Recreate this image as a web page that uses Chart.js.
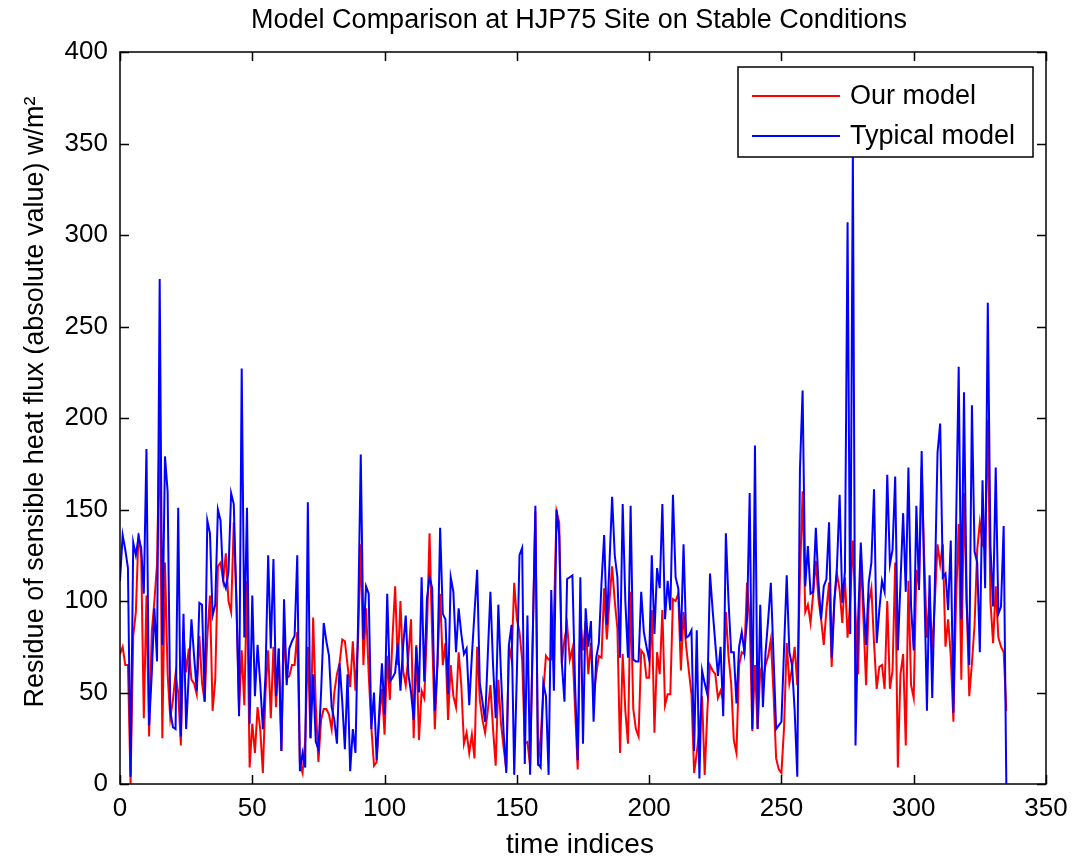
<!DOCTYPE html>
<html><head><meta charset="utf-8">
<script src="https://cdn.jsdelivr.net/npm/chart.js@4.4.1/dist/chart.umd.min.js"></script>
<style>html,body{margin:0;padding:0;background:#fff;}#wrap{width:1072px;height:859px;position:relative;}</style>
</head><body><div id="wrap"><canvas id="c"></canvas></div>
<script>
const titleText = "Model Comparison at HJP75 Site on Stable Conditions";
const xLabel = "time indices";
const yLabel = "Residue of sensible heat flux (absolute value) w/m\u00B2";
const seriesNames = ["Our model", "Typical model"];
const xTicks = [0,50,100,150,200,250,300,350];
const yTicks = [0,50,100,150,200,250,300,350,400];

const ourModel = [
71,75,65,65,0,81,94,137,125,36,
103,26,83,100,120,199,25,121,60,36,
46,60,50,21,83,61,74,57,55,49,
81,55,45,80,103,40,57,119,121,111,
126,100,94,143,100,40,73,43,111,9,
33,17,42,30,6,50,73,36,75,42,
74,18,83,58,59,65,65,83,11,6,
24,75,25,91,43,12,35,41,41,38,
30,50,60,66,79,78,65,53,78,51,
80,131,65,96,60,31,10,12,36,52,
27,70,46,80,108,65,100,62,54,70,
90,25,76,24,51,47,83,137,80,30,
66,104,65,77,35,65,48,42,72,54,
22,28,17,27,14,75,46,35,28,40,
54,30,10,57,33,20,8,76,68,110,
90,83,68,22,23,10,80,149,10,26,
50,70,68,68,90,149,143,66,79,87,
68,74,41,8,90,73,89,60,77,48,
60,70,69,107,79,100,119,100,85,17,
71,40,22,105,41,30,26,73,71,58,
58,95,28,72,60,95,43,49,49,101,
100,104,62,94,75,62,49,6,17,30,
48,5,40,65,62,60,47,51,46,94,
70,55,24,17,65,72,71,110,90,29,
65,30,62,57,65,70,79,50,14,8,
6,31,77,55,63,75,54,113,160,94,
98,88,104,122,101,90,76,95,110,64,
100,115,106,88,113,80,100,133,93,60,
126,90,54,99,107,77,52,64,65,52,
100,52,62,121,9,60,71,21,111,54,
47,117,108,173,122,80,102,73,100,131,
120,131,75,90,70,34,100,142,57,159,
100,48,66,87,128,143,131,128,199,100,
77,108,80,75,72,40
];

const typicalModel = [
111,136,128,118,4,132,125,135,129,104,
183,32,60,96,67,276,76,179,160,40,
31,30,151,26,93,30,60,90,70,51,
99,98,45,144,137,92,98,150,144,111,
107,116,159,153,100,37,227,80,151,33,
103,48,76,55,30,60,125,74,123,48,
74,18,101,54,74,78,81,125,7,17,
9,154,25,60,23,19,50,88,78,70,
42,35,22,66,45,19,60,7,30,17,
90,180,79,108,104,30,50,13,40,66,
38,104,56,58,61,77,51,75,92,60,
50,35,75,50,113,56,101,113,107,40,
66,140,93,90,49,113,105,72,96,82,
71,74,43,70,94,117,55,45,34,70,
105,65,36,98,60,28,6,76,87,5,
60,125,129,11,92,5,80,152,11,9,
55,48,5,106,51,150,136,66,45,112,
113,114,54,13,113,22,96,75,89,34,
69,77,110,136,87,120,157,125,113,69,
153,100,69,152,68,67,67,105,83,75,
68,125,82,118,107,153,90,111,95,158,
113,107,78,131,80,81,84,18,84,3,
62,55,49,115,95,77,59,75,37,137,
100,72,72,44,75,83,72,90,159,30,
185,30,98,42,72,90,110,70,30,32,
34,74,114,72,65,40,4,172,215,108,
130,104,105,140,110,90,108,112,143,69,
100,119,158,99,116,307,82,345,21,90,
132,100,76,110,121,161,77,95,111,105,
169,120,128,168,73,110,148,105,173,97,
73,152,106,182,110,40,114,47,110,181,
197,113,115,95,133,39,140,228,90,214,
100,65,207,127,121,72,166,107,263,130,
97,173,93,97,141,0
];

const FONT = "'Liberation Sans', Arial, Helvetica, sans-serif";
const toPoints = arr => arr.map((v, i) => ({x: i, y: v}));

const framePlugin = {
  id: 'frame',
  afterDatasetsDraw(chart) {
    const {ctx, chartArea: a, scales: {x, y}} = chart;
    ctx.save();
    ctx.strokeStyle = '#000';
    ctx.lineWidth = 1.5;
    ctx.strokeRect(a.left, a.top, a.right - a.left, a.bottom - a.top);
    const L = 9;
    ctx.beginPath();
    xTicks.forEach(v => {
      const px = Math.round(x.getPixelForValue(v)) + 0.5;
      ctx.moveTo(px, a.bottom); ctx.lineTo(px, a.bottom - L);
      ctx.moveTo(px, a.top); ctx.lineTo(px, a.top + L);
    });
    yTicks.forEach(v => {
      const py = Math.round(y.getPixelForValue(v)) + 0.5;
      ctx.moveTo(a.left, py); ctx.lineTo(a.left + L, py);
      ctx.moveTo(a.right, py); ctx.lineTo(a.right - L, py);
    });
    ctx.stroke();
    // legend
    const bw = 295, bh = 90;
    const bx = a.right - 308, by = a.top + 15;
    ctx.fillStyle = '#fff';
    ctx.fillRect(bx, by, bw, bh);
    ctx.lineWidth = 1.5;
    ctx.strokeStyle = '#000';
    ctx.strokeRect(bx, by, bw, bh);
    const cols = ['#ff0000', '#0000ff'];
    const rows = [by + 29, by + 69];
    ctx.font = '27px ' + FONT;
    ctx.textBaseline = 'middle';
    ctx.textAlign = 'left';
    rows.forEach((ry, k) => {
      ctx.strokeStyle = cols[k];
      ctx.lineWidth = 2;
      ctx.beginPath();
      ctx.moveTo(bx + 14, ry); ctx.lineTo(bx + 102, ry);
      ctx.stroke();
      ctx.fillStyle = '#000';
      ctx.fillText(seriesNames[k], bx + 112, ry + 1);
    });
    // titles
    const cx = (a.left + a.right) / 2;
    ctx.fillStyle = '#000';
    ctx.textAlign = 'center';
    ctx.textBaseline = 'middle';
    ctx.font = '27px ' + FONT;
    ctx.fillText(titleText, cx - 4, 21);
    ctx.font = '28px ' + FONT;
    ctx.fillText(xLabel, cx - 3, 845);
    ctx.font = '27px ' + FONT;
    ctx.save();
    ctx.translate(36, 402);
    ctx.rotate(-Math.PI / 2);
    ctx.fillText(yLabel, 0, 0);
    ctx.restore();
    ctx.restore();
  }
};

new Chart(document.getElementById('c'), {
  type: 'line',
  data: {
    datasets: [
      {label: seriesNames[0], data: toPoints(ourModel), borderColor: '#ff0000', borderWidth: 2, pointRadius: 0, tension: 0, order: 2},
      {label: seriesNames[1], data: toPoints(typicalModel), borderColor: '#0000ff', borderWidth: 2, pointRadius: 0, tension: 0, order: 1}
    ]
  },
  options: {
    responsive: true,
    maintainAspectRatio: false,
    animation: false,
    devicePixelRatio: 1,
    layout: {padding: {left: 0, right: 26, top: 52, bottom: 0}},
    plugins: {
      legend: {display: false},
      tooltip: {enabled: false},
      title: {display: false}
    },
    scales: {
      x: {
        type: 'linear', min: 0, max: 350,
        afterBuildTicks: s => { s.ticks = xTicks.map(v => ({value: v})); },
        afterFit: s => { s.height = 75; s.paddingLeft = 0; s.paddingRight = 0; },
        grid: {display: false, drawTicks: false},
        border: {display: false},
        ticks: {color: '#000', padding: 9, maxRotation: 0, font: {family: FONT, size: 26}}
      },
      y: {
        type: 'linear', min: 0, max: 400,
        afterBuildTicks: s => { s.ticks = yTicks.map(v => ({value: v})); },
        afterFit: s => { s.width = 120; s.paddingTop = 0; s.paddingBottom = 0; },
        grid: {display: false, drawTicks: false},
        border: {display: false},
        ticks: {color: '#000', padding: 12, font: {family: FONT, size: 26}}
      }
    }
  },
  plugins: [framePlugin]
});
</script>
</body></html>
